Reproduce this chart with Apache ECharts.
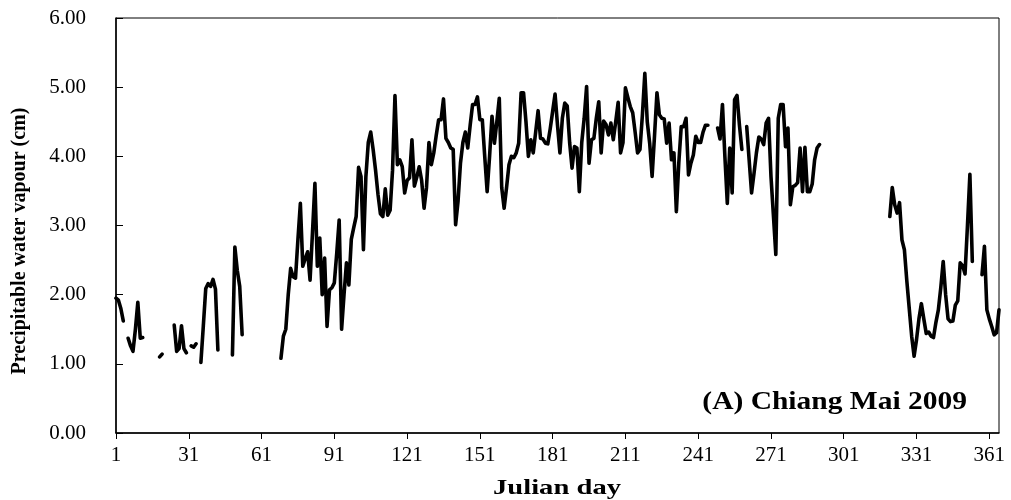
<!DOCTYPE html>
<html>
<head>
<meta charset="utf-8">
<script src="https://cdn.jsdelivr.net/npm/echarts@6/dist/echarts.min.js"></script>
<style>
  html, body { margin: 0; padding: 0; background: #fff; }
  #chart { width: 1011px; height: 500px; }
</style>
</head>
<body>
<div id="chart"></div>
<script>
// Daily precipitable water vapour (cm), Julian day 1..365; null = missing day
const pwv = [
  1.95, 1.92, 1.80, 1.62, null, 1.37, 1.26, 1.18, 1.50, 1.89,
  1.37, 1.38, null, null, null, null, null, null, 1.10, 1.14,
  null, null, null, null, 1.56, 1.18, 1.22, 1.55, 1.22, 1.16,
  null, 1.26, 1.24, 1.29, null, 1.02, 1.55, 2.09, 2.16, 2.12,
  2.22, 2.08, 1.20, null, null, null, null, null, 1.13, 2.69,
  2.35, 2.12, 1.42, null, null, null, null, null, null, null,
  null, null, null, null, null, null, null, null, 1.08, 1.40,
  1.50, 2.00, 2.38, 2.26, 2.24, 2.80, 3.32, 2.41, 2.52, 2.62,
  2.21, 2.90, 3.61, 2.41, 2.82, 2.00, 2.53, 1.54, 2.07, 2.10,
  2.17, 2.60, 3.08, 1.50, 2.00, 2.46, 2.14, 2.80, 2.97, 3.13,
  3.84, 3.71, 2.65, 3.70, 4.20, 4.35, 4.10, 3.80, 3.45, 3.17,
  3.13, 3.53, 3.15, 3.22, 3.80, 4.88, 3.88, 3.95, 3.85, 3.47,
  3.65, 3.69, 4.24, 3.57, 3.70, 3.85, 3.65, 3.25, 3.55, 4.20,
  3.88, 4.05, 4.30, 4.53, 4.53, 4.83, 4.26, 4.20, 4.12, 4.10,
  3.01, 3.35, 3.90, 4.20, 4.35, 4.12, 4.45, 4.75, 4.75, 4.86,
  4.53, 4.53, 4.00, 3.49, 4.00, 4.58, 4.19, 4.50, 4.84, 3.55,
  3.25, 3.55, 3.88, 4.00, 3.98, 4.05, 4.19, 4.92, 4.92, 4.50,
  4.00, 4.24, 4.05, 4.35, 4.66, 4.26, 4.25, 4.19, 4.18, 4.40,
  4.65, 4.90, 4.45, 4.05, 4.55, 4.77, 4.73, 4.20, 3.83, 4.14,
  4.12, 3.49, 4.20, 4.55, 5.01, 3.90, 4.24, 4.26, 4.55, 4.79,
  4.05, 4.51, 4.46, 4.31, 4.48, 4.24, 4.50, 4.78, 4.05, 4.20,
  4.99, 4.85, 4.72, 4.63, 4.35, 4.05, 4.10, 4.60, 5.20, 4.50,
  4.19, 3.71, 4.30, 4.92, 4.60, 4.55, 4.54, 4.19, 4.48, 3.95,
  4.05, 3.20, 3.90, 4.43, 4.43, 4.55, 3.73, 3.90, 4.02, 4.29,
  4.20, 4.20, 4.35, 4.45, 4.45, null, null, null, 4.41, 4.25,
  4.75, 4.00, 3.32, 4.12, 3.47, 4.82, 4.88, 4.45, 4.10, null,
  4.43, 3.95, 3.47, 3.75, 4.05, 4.28, 4.25, 4.17, 4.48, 4.55,
  3.71, 3.15, 2.58, 4.55, 4.75, 4.75, 4.14, 4.41, 3.30, 3.56,
  3.58, 3.62, 4.12, 3.49, 4.13, 3.49, 3.49, 3.60, 3.95, 4.12,
  4.17, null, null, null, null, null, null, null, null, null,
  null, null, null, null, null, null, null, null, null, null,
  null, null, null, null, null, null, null, null, null, 3.13,
  3.55, 3.30, 3.18, 3.33, 2.79, 2.65, 2.20, 1.80, 1.40, 1.11,
  1.35, 1.65, 1.87, 1.65, 1.44, 1.46, 1.40, 1.38, 1.60, 1.78,
  2.10, 2.48, 2.00, 1.65, 1.61, 1.62, 1.85, 1.91, 2.46, 2.42,
  2.30, 3.00, 3.74, 2.48, null, null, null, 2.29, 2.70, 1.78,
  1.65, 1.54, 1.42, 1.45, 1.78
];

const firstDay = 1;
const lastDay = 365;
const dayStep = 30;
const yMin = 0, yMax = 6, yStep = 1;

const yTitle = 'Precipitable water vapour (cm)';
const xTitle = 'Julian day';
const panelLabel = '(A) Chiang Mai 2009';

const serif = '"Liberation Serif", "Times New Roman", serif';

const chart = echarts.init(document.getElementById('chart'), null, { renderer: 'canvas' });

chart.setOption({
  animation: false,
  backgroundColor: '#fff',
  grid: {
    left: 116, right: 12, top: 18, bottom: 67,
    show: true, borderColor: '#000', borderWidth: 1, backgroundColor: 'transparent'
  },
  xAxis: {
    type: 'value',
    min: firstDay, max: lastDay, interval: dayStep,
    axisLine: { show: true, onZero: false, lineStyle: { color: '#000', width: 1.5 } },
    axisTick: { show: true, inside: false, length: 6, lineStyle: { color: '#000', width: 1 } },
    axisLabel: {
      showMaxLabel: false, color: '#000', fontFamily: serif, fontSize: 21, margin: 12
    },
    splitLine: { show: false }
  },
  yAxis: {
    type: 'value',
    min: yMin, max: yMax, interval: yStep,
    axisLine: { show: true, lineStyle: { color: '#000', width: 1.5 } },
    axisTick: { show: true, inside: true, length: 7, lineStyle: { color: '#000', width: 1 } },
    axisLabel: {
      color: '#000', fontFamily: serif, fontSize: 21, margin: 30, padding: [3, 0, 0, 0],
      formatter: v => v.toFixed(2)
    },
    splitLine: { show: false }
  },
  series: [{
    type: 'line',
    data: pwv.map((v, i) => [firstDay + i, v]),
    showSymbol: false,
    connectNulls: false,
    lineStyle: { color: '#000', width: 3.6, join: 'round', cap: 'round' }
  }],
  graphic: [
    {
      type: 'text', x: 20, y: 241, rotation: Math.PI / 2,
      style: {
        text: yTitle, fill: '#000', font: 'bold 20px ' + serif,
        textAlign: 'center', textVerticalAlign: 'middle', align: 'center', verticalAlign: 'middle'
      }
    },
    {
      type: 'text', x: 557, y: 488, scaleX: 1.3,
      style: {
        text: xTitle, fill: '#000', font: 'bold 22px ' + serif,
        textAlign: 'center', textVerticalAlign: 'middle', align: 'center', verticalAlign: 'middle'
      }
    },
    {
      type: 'text', x: 967, y: 403, scaleX: 1.18,
      style: {
        text: panelLabel, fill: '#000', font: 'bold 25px ' + serif,
        textAlign: 'right', textVerticalAlign: 'middle', align: 'right', verticalAlign: 'middle'
      }
    }
  ]
});
</script>
</body>
</html>
